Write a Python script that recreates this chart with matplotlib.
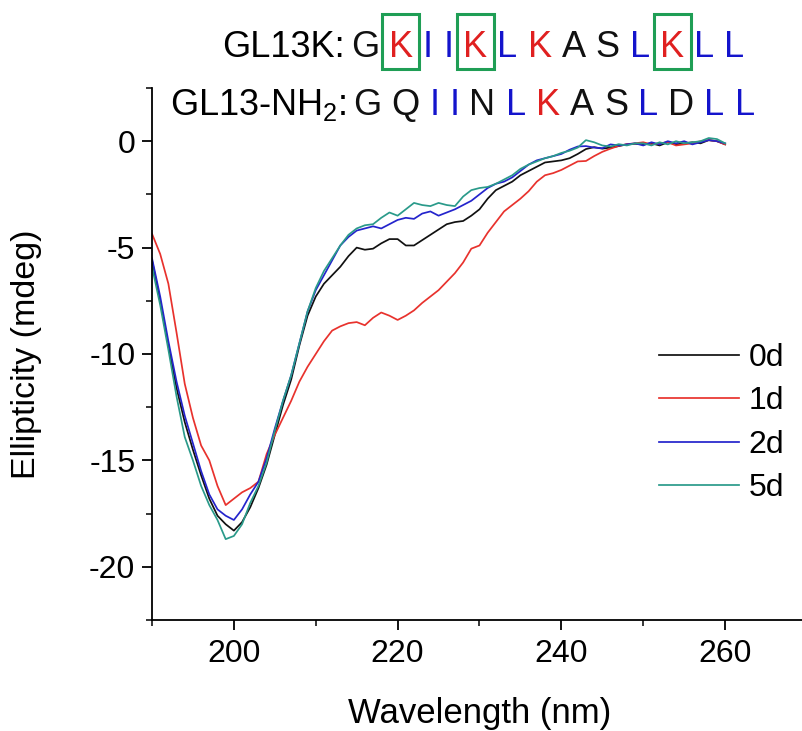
import matplotlib.pyplot as plt
from matplotlib.patches import Rectangle
from matplotlib.transforms import IdentityTransform
from matplotlib.ticker import MultipleLocator

plt.rcParams['font.family'] = ['Liberation Sans', 'DejaVu Sans']
plt.rcParams['mathtext.fontset'] = 'custom'
plt.rcParams['mathtext.rm'] = 'Liberation Sans'
plt.rcParams['mathtext.default'] = 'regular'
plt.rcParams['axes.unicode_minus'] = False

# CD spectra, 190-260 nm in 1 nm steps
wavelength = list(range(190, 261))

day0 = [-5.6, -7.5, -9.6, -11.6, -13.2, -14.5, -15.7, -16.8, -17.6, -18.0,
        -18.3, -17.9, -17.2, -16.3, -15.2, -13.8, -12.4, -11.2, -9.6, -8.2,
        -7.3, -6.7, -6.3, -5.9, -5.4, -5.0, -5.1, -5.05, -4.8, -4.6,
        -4.6, -4.9, -4.9, -4.65, -4.4, -4.15, -3.9, -3.8, -3.75, -3.5,
        -3.2, -2.7, -2.3, -2.1, -1.9, -1.6, -1.4, -1.2, -1.0, -0.95,
        -0.9, -0.8, -0.6, -0.37, -0.28, -0.35, -0.3, -0.23, -0.15, -0.12,
        -0.15, -0.1, -0.2, -0.05, -0.15, -0.1, -0.05, -0.1, 0.05, 0.0,
        -0.15]
day1 = [-4.35, -5.3, -6.7, -9.0, -11.4, -13.0, -14.3, -15.0, -16.2, -17.1,
        -16.8, -16.5, -16.3, -16.0, -14.7, -13.8, -13.0, -12.2, -11.3, -10.6,
        -10.0, -9.4, -8.9, -8.7, -8.55, -8.5, -8.65, -8.3, -8.05, -8.2,
        -8.4, -8.2, -7.95, -7.6, -7.3, -7.0, -6.6, -6.2, -5.7, -5.05,
        -4.9, -4.3, -3.8, -3.3, -3.0, -2.7, -2.35, -1.9, -1.6, -1.5,
        -1.35, -1.15, -0.95, -0.93, -0.7, -0.5, -0.35, -0.22, -0.14, -0.1,
        -0.05, -0.15, -0.1, -0.05, -0.2, -0.15, -0.1, 0.0, 0.05, 0.0,
        -0.15]
day2 = [-5.5, -7.3, -9.4, -11.3, -12.9, -14.2, -15.5, -16.6, -17.3, -17.6,
        -17.8, -17.3, -16.6, -16.0, -14.9, -13.5, -12.2, -11.0, -9.5, -8.0,
        -7.0, -6.3, -5.6, -4.9, -4.5, -4.2, -4.1, -4.0, -4.1, -3.9,
        -3.7, -3.6, -3.65, -3.4, -3.3, -3.5, -3.35, -3.2, -3.0, -2.8,
        -2.5, -2.2, -2.0, -1.9, -1.7, -1.4, -1.1, -0.9, -0.8, -0.7,
        -0.6, -0.4, -0.25, -0.23, -0.3, -0.33, -0.15, -0.2, -0.15, -0.1,
        -0.2, -0.05, -0.15, 0.0, -0.1, 0.0, -0.15, -0.05, 0.05, 0.0,
        -0.1]
day5 = [-5.9, -7.7, -9.8, -12.0, -13.9, -15.0, -16.2, -17.1, -17.8, -18.7,
        -18.55, -18.0, -17.0, -16.2, -15.1, -13.6, -12.2, -11.0, -9.5, -8.0,
        -6.9, -6.1, -5.5, -4.9, -4.4, -4.1, -3.95, -3.9, -3.6, -3.35,
        -3.5, -3.2, -2.9, -3.0, -3.05, -2.9, -3.0, -3.05, -2.6, -2.3,
        -2.2, -2.15, -2.0, -1.8, -1.6, -1.3, -1.1, -0.95, -0.8, -0.7,
        -0.55, -0.45, -0.3, 0.05, -0.05, -0.2, -0.25, -0.14, -0.2, -0.1,
        -0.1, -0.2, -0.05, -0.15, 0.0, -0.1, -0.05, 0.0, 0.15, 0.1,
        -0.1]

series_labels = ['0d', '1d', '2d', '5d']
series_colors = ['#111111', '#e8322d', '#2424cc', '#2a9a8a']

# peptide sequences shown above the plot
seq1_name = 'GL13K:'
seq1 = ['G', 'K', 'I', 'I', 'K', 'L', 'K', 'A', 'S', 'L', 'K', 'L', 'L']
seq2_name = 'GL13-NH$_2$:'
seq2 = ['G', 'Q', 'I', 'I', 'N', 'L', 'K', 'A', 'S', 'L', 'D', 'L', 'L']
seq1_boxed = [1, 4, 10]

letter_color = {'K': '#e02020', 'I': '#1414cc', 'L': '#1414cc'}

fig = plt.figure(figsize=(8.03, 7.31), dpi=100)
ax = fig.add_axes([152 / 803, 111 / 731, 655 / 803, 532 / 731])

for vals, lab, col in zip([day0, day1, day2, day5], series_labels, series_colors):
    ax.plot(wavelength, vals, color=col, lw=1.25, label=lab)

ax.set_xlim(190, 270)
ax.set_ylim(-22.5, 2.5)
ax.xaxis.set_minor_locator(MultipleLocator(10))
ax.set_xticks([200, 220, 240, 260])
ax.yaxis.set_major_locator(MultipleLocator(5))
ax.yaxis.set_minor_locator(MultipleLocator(2.5))
ax.spines['top'].set_visible(False)
ax.spines['right'].set_visible(False)
for s in ['left', 'bottom']:
    ax.spines[s].set_linewidth(1.3)
ax.tick_params(which='major', direction='out', length=7, width=1.3, labelsize=23, pad=5)
ax.tick_params(axis='x', which='major', pad=7)
ax.tick_params(which='minor', direction='out', length=4, width=1.1)
ax.set_xlabel('Wavelength (nm)', fontsize=25, labelpad=20)
ax.set_ylabel('Ellipticity (mdeg)', fontsize=24.5)
ax.yaxis.set_label_coords(-110 / 655, 0.5)

ax.legend(loc='upper left', bbox_to_anchor=(643 / 803, 1 - 327 / 731),
          bbox_transform=fig.transFigure, frameon=False, fontsize=23,
          handlelength=2.5, handletextpad=0.3, labelspacing=0.42, borderpad=0)

# sequence lines, laid out letter by letter in pixel space
ident = IdentityTransform()
renderer = fig.canvas.get_renderer()
fs = 26
space = 0.278 * fs * 100 / 72


def draw_seq(x, y, name, letters, boxed):
    t = fig.text(x, y, name, transform=ident, fontsize=fs, va='baseline')
    x += t.get_window_extent(renderer).width + 0.6 * space
    for i, ch in enumerate(letters):
        t = fig.text(x, y, ch, transform=ident, fontsize=fs, va='baseline',
                     color=letter_color.get(ch, '#111111'))
        bb = t.get_window_extent(renderer)
        if i in boxed:
            fig.patches.append(Rectangle((bb.x0 + bb.width / 2 - 18.5, y - 12), 37, 55,
                                         transform=ident, fill=False,
                                         edgecolor='#1f9e55', lw=2.2))
        x += bb.width + space


draw_seq(222, 731 - 57, seq1_name, seq1, seq1_boxed)
draw_seq(170, 731 - 115, seq2_name, seq2, [])

fig.savefig('out.png', dpi=100)
